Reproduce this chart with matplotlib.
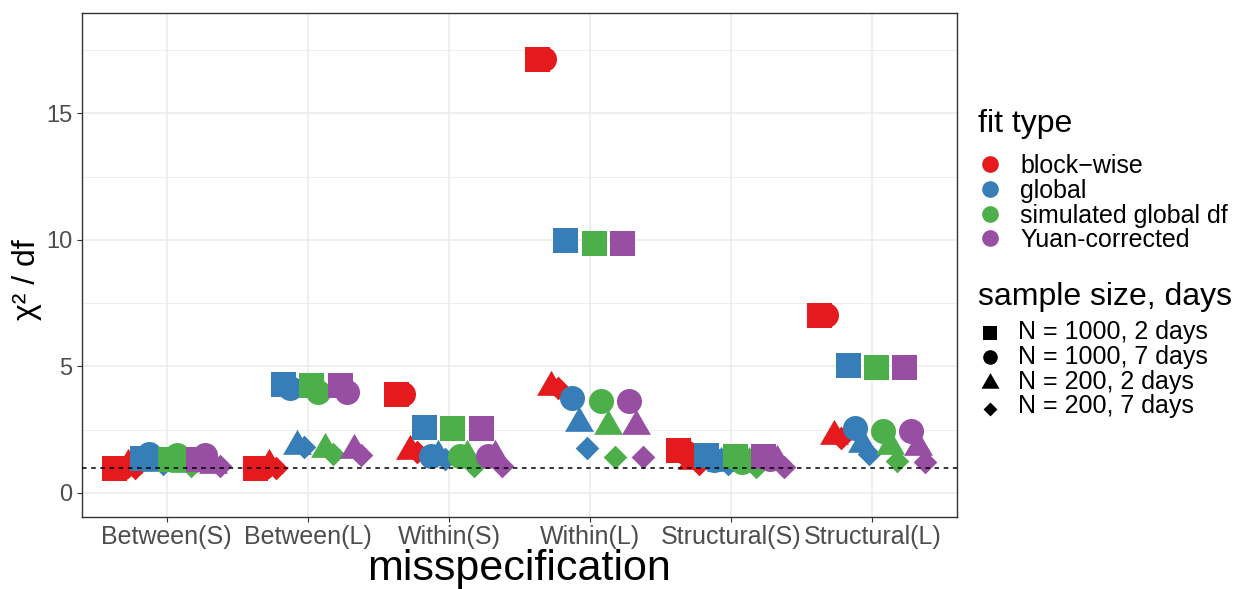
import matplotlib.pyplot as plt
from matplotlib.lines import Line2D
import numpy as np

plt.rcParams['font.family'] = ['Liberation Sans', 'DejaVu Sans']

# --- data: chi2/df per misspecification, rows = categories, cols = sample size ---
categories = ["Between(S)", "Between(L)", "Within(S)", "Within(L)",
              "Structural(S)", "Structural(L)"]
fit_types = ["block\u2212wise", "global", "simulated global df", "Yuan-corrected"]
sizes = ["N = 1000, 2 days", "N = 1000, 7 days", "N = 200, 2 days", "N = 200, 7 days"]

# columns: N1000/2d, N1000/7d, N200/2d, N200/7d
blockwise = [[0.98, 1.0, 1.1, 1.0],
             [0.98, 0.98, 1.1, 1.0],
             [3.9, 3.9, 1.65, 1.6],
             [17.15, 17.15, 4.2, 4.15],
             [1.68, 1.6, 1.25, 1.15],
             [7.05, 7.05, 2.25, 2.17]]
global_fit = [[1.4, 1.55, 1.2, 1.15],
              [4.3, 4.15, 1.85, 1.8],
              [2.59, 1.48, 1.45, 1.35],
              [9.98, 3.75, 2.75, 1.77],
              [1.52, 1.3, 1.2, 1.15],
              [5.06, 2.57, 1.95, 1.55]]
simulated = [[1.35, 1.5, 1.15, 1.05],
             [4.25, 4.0, 1.75, 1.55],
             [2.55, 1.48, 1.45, 1.07],
             [9.86, 3.65, 2.65, 1.41],
             [1.48, 1.24, 1.2, 1.03],
             [4.96, 2.46, 1.85, 1.25]]
yuan = [[1.35, 1.5, 1.1, 1.05],
        [4.25, 4.0, 1.7, 1.5],
        [2.55, 1.45, 1.45, 1.05],
        [9.86, 3.65, 2.65, 1.41],
        [1.48, 1.35, 1.25, 1.03],
        [4.96, 2.46, 1.8, 1.22]]

series = [blockwise, global_fit, simulated, yuan]
colors = ["#E41A1C", "#377EB8", "#4DAF4A", "#984EA3"]

# ggplot-like shapes (triangle centred on centroid, diamond as path)
tri = [(0, 0.577), (-0.5, -0.289), (0.5, -0.289), (0, 0.577)]
dia = [(0, 1), (1, 0), (0, -1), (-1, 0), (0, 1)]
markers = ["s", "o", tri, dia]
msizes = [18, 18, 24, 17]

W, H = 1249, 589
fig = plt.figure(figsize=(W / 100, H / 100), dpi=100)
ax = fig.add_axes([82 / W, 1 - 517 / H, (957 - 82) / W, (517 - 13) / H])

x = np.arange(1, len(categories) + 1)
fit_off = [-0.3, -0.1, 0.1, 0.3]
size_off = [-0.075, -0.025, 0.025, 0.075]

for f, vals in enumerate(series):
    vals = np.array(vals)
    for s in range(len(sizes)):
        ax.plot(x + fit_off[f] + size_off[s], vals[:, s], ls="", marker=markers[s],
                ms=msizes[s], color=colors[f], mew=0)

ax.axhline(1, color="black", ls=(0, (3, 3)), lw=1.1, zorder=3)

ax.set_xlim(0.4, 6.6)
ax.set_ylim(-0.95, 18.97)
ax.set_xticks(x)
ax.set_xticklabels(categories, fontsize=18, color="#4D4D4D")
ax.set_yticks([0, 5, 10, 15])
ax.set_yticks([2.5, 7.5, 12.5, 17.5], minor=True)
ax.tick_params(axis="y", labelsize=17, labelcolor="#4D4D4D")
ax.tick_params(axis="x", pad=2)
ax.tick_params(which="both", color="#333333", length=3.5, width=0.8)
ax.tick_params(which="minor", length=0)
ax.grid(True, which="major", color="#EBEBEB", lw=1.1)
ax.grid(True, which="minor", axis="y", color="#EBEBEB", lw=0.6)
ax.set_axisbelow(True)
for sp in ax.spines.values():
    sp.set_color("#333333")
    sp.set_linewidth(1)

ax.set_xlabel("misspecification", fontsize=31)
ax.xaxis.label.set_va("baseline")
ax.xaxis.set_label_coords(0.5, (517 - 580) / 504)
ax.set_ylabel("\u03c7\u00b2 / df", fontsize=23)
ax.yaxis.label.set_va("center")
ax.yaxis.set_label_coords((27 - 82) / 875, (517 - 280) / 504)


# --- legends, laid out in pixel positions ---
def px(xp, yp):
    return xp / W, 1 - yp / H


fig.text(*px(978, 132), "fit type", fontsize=23, va="baseline")
for i, (lab, c) in enumerate(zip(fit_types, colors)):
    yb = 173 + 24.8 * i
    fig.add_artist(Line2D([px(990, 0)[0]], [px(0, yb - 9)[1]], transform=fig.transFigure,
                          ls="", marker="o", ms=12, color=c, mew=0))
    fig.text(*px(1020, yb), lab, fontsize=18, va="baseline")

fig.text(*px(978, 305), "sample size, days", fontsize=23, va="baseline")
lms = [10, 10.5, 15, 10]
ldy = [-3, -4, -3, -1]
for i, (lab, m, k) in enumerate(zip(sizes, markers, lms)):
    yb = 339 + 24.8 * i
    fig.add_artist(Line2D([px(990, 0)[0]], [px(0, yb + ldy[i] - 3)[1]],
                          transform=fig.transFigure, ls="", marker=m, ms=k,
                          color="black", mew=0))
    fig.text(*px(1018, yb), lab, fontsize=18, va="baseline")

fig.savefig("out.png", dpi=100)
